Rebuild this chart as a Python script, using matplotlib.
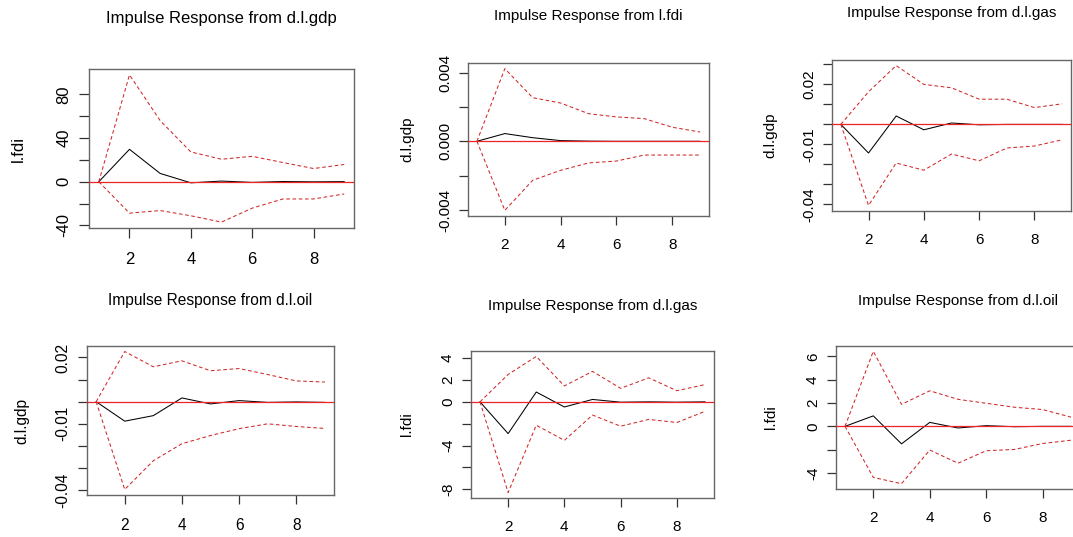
import matplotlib
matplotlib.use("Agg")
import matplotlib.pyplot as plt

plt.rcParams["font.family"] = ["Liberation Sans", "DejaVu Sans"]

# -----------------------------
# data
# -----------------------------
steps = [1, 2, 3, 4, 5, 6, 7, 8, 9]

titles = [
    "Impulse Response from d.l.gdp",
    "Impulse Response from l.fdi",
    "Impulse Response from d.l.gas",
    "Impulse Response from d.l.oil",
    "Impulse Response from d.l.gas",
    "Impulse Response from d.l.oil",
]
ylabels = ["l.fdi", "d.l.gdp", "d.l.gdp", "d.l.gdp", "l.fdi", "l.fdi"]

# gdp -> fdi
irf_1 = [0, 29.7, 7.6, -1.0, 0.6, -0.6, 0.2, -0.1, 0.1]
upper_1 = [0, 97.9, 56.0, 27.3, 20.6, 23.3, 17.6, 12.1, 15.8]
lower_1 = [0, -28.8, -26.4, -31.2, -37.0, -24.2, -15.8, -15.8, -11.2]

# fdi -> gdp
irf_2 = [0, 0.00045, 0.00021, 0.00004, 0.00001, 0.0, 0.0, 0.0, 0.0]
upper_2 = [0, 0.00423, 0.00254, 0.00223, 0.00161, 0.00142, 0.00132, 0.00082, 0.00054]
lower_2 = [0, -0.00402, -0.00227, -0.00169, -0.00126, -0.00115, -0.0008, -0.0008, -0.0008]

# gas -> gdp
irf_3 = [0, -0.0143, 0.0042, -0.0027, 0.0007, -0.0002, 0.0, 0.0, 0.0]
upper_3 = [0, 0.0163, 0.0294, 0.0200, 0.0183, 0.0126, 0.0126, 0.0084, 0.0103]
lower_3 = [0, -0.0405, -0.0193, -0.0229, -0.0148, -0.0182, -0.0118, -0.0108, -0.0077]

# oil -> gdp
irf_4 = [0, -0.0088, -0.0063, 0.0017, -0.0010, 0.0005, -0.0003, -0.0001, -0.0003]
upper_4 = [0, 0.0227, 0.0158, 0.0185, 0.0140, 0.0150, 0.0123, 0.0094, 0.0089]
lower_4 = [0, -0.0397, -0.0267, -0.0190, -0.0153, -0.0122, -0.0100, -0.0112, -0.0121]

# gas -> fdi
irf_5 = [0, -2.91, 0.90, -0.47, 0.22, -0.03, 0.0, -0.03, 0.0]
upper_5 = [0, 2.51, 4.16, 1.46, 2.79, 1.24, 2.20, 1.02, 1.58]
lower_5 = [0, -8.31, -2.14, -3.53, -1.21, -2.23, -1.61, -1.89, -0.87]

# oil -> fdi
irf_6 = [0, 0.90, -1.50, 0.34, -0.14, 0.06, -0.03, 0.0, 0.0]
upper_6 = [0, 6.44, 1.89, 3.05, 2.32, 1.98, 1.64, 1.44, 0.79]
lower_6 = [0, -4.38, -4.92, -2.03, -3.16, -2.09, -1.98, -1.47, -1.19]

# y ticks and the labels R kept (blank = tick without label)
yticks_1 = [-40, -20, 0, 20, 40, 60, 80]
ylabs_1 = ["-40", "", "0", "", "40", "", "80"]
yticks_2 = [-0.004, -0.002, 0, 0.002, 0.004]
ylabs_2 = ["-0.004", "", "0.000", "", "0.004"]
yticks_3 = [-0.04, -0.03, -0.02, -0.01, 0, 0.01, 0.02, 0.03]
ylabs_3 = ["-0.04", "", "", "-0.01", "", "", "0.02", ""]
yticks_4 = [-0.04, -0.03, -0.02, -0.01, 0, 0.01, 0.02]
ylabs_4 = ["-0.04", "", "", "-0.01", "", "", "0.02"]
yticks_5 = [-8, -6, -4, -2, 0, 2, 4]
ylabs_5 = ["-8", "", "-4", "", "0", "2", "4"]
yticks_6 = [-4, -2, 0, 2, 4, 6]
ylabs_6 = ["-4", "", "0", "2", "4", "6"]
xticks = [2, 4, 6, 8]

panels = [
    (irf_1, upper_1, lower_1, yticks_1, ylabs_1),
    (irf_2, upper_2, lower_2, yticks_2, ylabs_2),
    (irf_3, upper_3, lower_3, yticks_3, ylabs_3),
    (irf_4, upper_4, lower_4, yticks_4, ylabs_4),
    (irf_5, upper_5, lower_5, yticks_5, ylabs_5),
    (irf_6, upper_6, lower_6, yticks_6, ylabs_6),
]

# -----------------------------
# layout in pixels (the screenshot is a collage)
# box = (left, top, right, bottom), title centre y, ylabel x, font size
# -----------------------------
W, H = 1073, 537
boxes = [
    (89, 69, 354, 228),
    (468, 63, 709, 216),
    (832, 60, 1071, 211),
    (87, 346, 334, 495),
    (471, 351, 714, 498),
    (836, 346, 1080, 489),
]
title_y = [18, 16, 13, 300, 306, 301]
ylab_x = [18, 407, 770, 22, 407, 771]
fsize = [12, 11, 11, 11.2, 11, 11]

fig = plt.figure(figsize=(W / 100, H / 100), dpi=100)

for i, (irf, up, lo, yt, yl) in enumerate(panels):
    l, t, r, b = boxes[i]
    ax = fig.add_axes([l / W, 1 - b / H, (r - l) / W, (b - t) / H])
    fs = fsize[i]
    scale = fs / 11

    ax.plot(steps, irf, color="black", lw=0.75, zorder=2)
    ax.plot(steps, up, color="#d02828", lw=0.75, dashes=(3.5, 2.5), zorder=2)
    ax.plot(steps, lo, color="#d02828", lw=0.75, dashes=(3.5, 2.5), zorder=2)
    ax.axhline(0, color="#ee2424", lw=0.9, zorder=3)

    ymin = min(lo + irf)
    ymax = max(up + irf)
    pad = 0.04 * (ymax - ymin)
    ax.set_ylim(ymin - pad, ymax + pad)
    ax.set_xlim(1 - 0.32, 9 + 0.32)

    ax.set_xticks(xticks)
    ax.set_xticklabels([str(x) for x in xticks])
    ax.set_yticks(yt)
    ax.set_yticklabels(yl)
    ax.tick_params(axis="both", direction="out", length=6.5 * scale, width=0.9,
                   color="#333333", labelsize=fs)
    ax.tick_params(axis="x", pad=9.5 * scale)
    ax.tick_params(axis="y", labelrotation=90, pad=5 * scale)
    for lab in ax.get_yticklabels():
        lab.set_va("center")
    for s in ax.spines.values():
        s.set_color("#666666")
        s.set_linewidth(1.0)

    fig.text((l + r) / 2 / W, 1 - title_y[i] / H, titles[i], ha="center",
             va="center", fontsize=fs)
    fig.text(ylab_x[i] / W, 1 - (t + b) / 2 / H, ylabels[i], ha="center",
             va="center", rotation=90, fontsize=fs)

fig.savefig("out.png", dpi=100)
